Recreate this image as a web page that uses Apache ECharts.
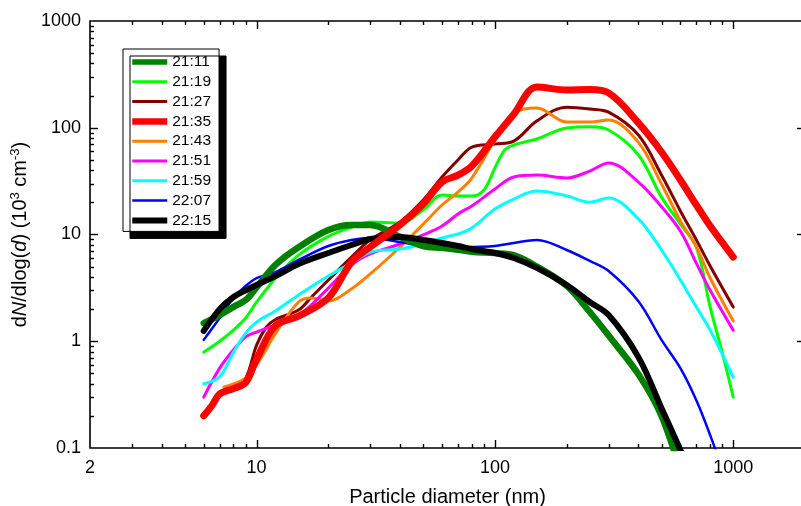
<!DOCTYPE html>
<html>
<head>
<meta charset="utf-8">
<script src="https://cdn.jsdelivr.net/npm/echarts@6/dist/echarts.min.js"></script>
<style>
  html, body { margin: 0; padding: 0; background: #fff; }
  #chart { width: 801px; height: 506px; }
</style>
</head>
<body>
<div id="chart"></div>
<script>
// Particle number size distributions, dN/dlog(d) in 10^3 cm^-3, by time of day
const seriesNames = ['21:11', '21:19', '21:27', '21:35', '21:43', '21:51', '21:59', '22:07', '22:15'];

const d2111 = [6, 7, 8, 9, 10, 12, 15, 20, 25, 30, 40, 50, 60, 70, 80, 100, 120, 150, 200, 250, 300, 400, 500, 600];
const n2111 = [1.48, 1.76, 2.1, 2.43, 3.2, 5.2, 7.6, 11.0, 12.3, 12.3, 9.5, 7.8, 7.5, 7.2, 6.9, 6.7, 6.4, 5.0, 3.3, 1.88, 1.13, 0.49, 0.2, 0.06];

const d2119 = [6, 7, 8, 9, 10, 12, 15, 20, 25, 30, 40, 50, 60, 70, 80, 90, 100, 110, 120, 150, 200, 250, 300, 400, 500, 600, 700, 800, 900, 1000];
const n2119 = [0.79, 1.0, 1.27, 1.65, 2.33, 3.9, 6.4, 9.6, 11.7, 13.1, 12.8, 17, 23.4, 22.9, 22.9, 26.1, 42, 61.9, 68.9, 78.5, 99.5, 102, 95.3, 55.6, 22.4, 12.5, 7.6, 2.09, 0.78, 0.30];

const d2127 = [7.3, 8, 9, 10, 11, 12, 15, 17, 20, 25, 30, 40, 50, 60, 70, 80, 100, 120, 150, 200, 250, 300, 400, 500, 600, 700, 800, 1000];
const n2127 = [0.35, 0.37, 0.45, 0.92, 1.36, 1.6, 1.96, 2.6, 3.75, 6.15, 8.9, 13.1, 21, 34.6, 49.9, 66, 70.4, 75, 116, 156, 150, 140, 85.5, 36.1, 16.6, 8.9, 5.07, 2.09];

const d2135 = [6, 6.5, 7, 8, 9, 10, 12, 15, 20, 25, 30, 40, 50, 60, 70, 80, 100, 120, 150, 200, 250, 300, 400, 500, 600, 700, 800, 1000];
const n2135 = [0.2, 0.25, 0.32, 0.36, 0.41, 0.68, 1.4, 1.72, 2.55, 5.5, 7.64, 12.3, 19.3, 31, 36, 43.8, 81.9, 134, 241, 226, 228, 212, 111, 59.3, 32.4, 18.9, 12.0, 6.15];

const d2143 = [7.3, 8, 9, 10, 12, 15, 17, 20, 25, 30, 40, 50, 60, 70, 80, 100, 120, 150, 200, 250, 300, 400, 500, 600, 700, 800, 1000];
const n2143 = [0.373, 0.398, 0.453, 0.6, 1.18, 2.33, 2.54, 2.38, 3.09, 4.27, 7.64, 12.5, 18.9, 25, 33.8, 76.8, 137, 153, 113, 113, 118, 73, 29.7, 13.4, 7.64, 3.91, 1.55];

const d2151 = [6, 7, 8, 9, 10, 12, 15, 20, 25, 30, 40, 50, 60, 70, 80, 100, 120, 150, 200, 250, 300, 400, 500, 600, 700, 800, 1000];
const n2151 = [0.30, 0.56, 0.83, 1.10, 1.22, 1.42, 1.73, 3.15, 5.18, 6.57, 8.15, 9.9, 12.0, 15.6, 18.5, 26.7, 34.6, 36, 33.8, 39.3, 46.8, 31, 18.2, 10.8, 5.4, 3.0, 1.27];

const d2159 = [6, 7, 8, 9, 10, 12, 15, 20, 25, 30, 40, 50, 60, 70, 80, 100, 120, 150, 200, 250, 300, 400, 500, 600, 700, 800, 1000];
const n2159 = [0.40, 0.465, 0.79, 1.19, 1.51, 1.92, 2.71, 4.08, 5.41, 6.86, 7.31, 8.15, 9.27, 10.1, 11.5, 17.3, 21.5, 25.5, 23, 20.1, 22, 14, 7.16, 3.75, 2.09, 1.27, 0.46];

const d2207 = [6, 7, 8, 9, 10, 12, 15, 20, 25, 30, 40, 50, 60, 70, 80, 100, 120, 150, 200, 250, 300, 400, 500, 600, 700, 800, 900];
const n2207 = [1.03, 1.65, 2.54, 3.29, 3.91, 4.45, 5.77, 7.8, 8.88, 9.27, 8.5, 7.8, 7.64, 7.48, 7.64, 7.8, 8.32, 8.88, 7.16, 5.65, 4.55, 2.37, 1.03, 0.56, 0.28, 0.132, 0.063];

const d2215 = [6, 7, 8, 9, 10, 12, 15, 20, 25, 30, 40, 50, 60, 70, 80, 100, 120, 150, 200, 250, 300, 400, 500, 600, 650];
const n2215 = [1.25, 2.0, 2.6, 3.0, 3.37, 4.08, 5.29, 6.71, 7.97, 9.08, 9.48, 8.88, 8.32, 7.8, 7.31, 6.71, 6.03, 4.86, 3.37, 2.33, 1.76, 0.71, 0.236, 0.096, 0.063];

const seriesColors = ['#008000', '#00ff00', '#800000', '#ff0000', '#ff8000', '#ff00ff', '#00ffff', '#0000ff', '#000000'];
const lineWidths = [6.5, 3, 3, 7, 3, 3, 3, 2.5, 6];
const legendWidths = [5.5, 3, 3, 6.5, 3, 3, 3, 2.5, 6];
const drawOrder = [3, 2, 2, 5, 2, 2, 2, 2, 4];

const diameters = [d2111, d2119, d2127, d2135, d2143, d2151, d2159, d2207, d2215];
const concentrations = [n2111, n2119, n2127, n2135, n2143, n2151, n2159, n2207, n2215];

// Axis tick positions (log axes)
const xLabelValues = [2, 10, 100, 1000];
const xMajorTicks = [10, 100, 1000];
const xMinorTicks = [3, 4, 5, 6, 7, 8, 9, 20, 30, 40, 50, 60, 70, 80, 90, 200, 300, 400, 500, 600, 700, 800, 900];
const yMajorTicks = [1, 10, 100];
const yMinorTicks = [0.2, 0.3, 0.4, 0.5, 0.6, 0.7, 0.8, 0.9, 2, 3, 4, 5, 6, 7, 8, 9, 20, 30, 40, 50, 60, 70, 80, 90, 200, 300, 400, 500, 600, 700, 800, 900];

const FONT = "'Liberation Sans', Arial, Helvetica, sans-serif";
const MAJOR_LEN = 8, MINOR_LEN = 4;

const chart = echarts.init(document.getElementById('chart'), null, { renderer: 'canvas' });

const lineSeries = seriesNames.map((name, i) => ({
  name: name,
  type: 'line',
  data: diameters[i].map((d, k) => [d, concentrations[i][k]]),
  smooth: 0.35,
  symbol: 'none',
  showSymbol: false,
  clip: true,
  z: drawOrder[i],
  lineStyle: { color: seriesColors[i], width: lineWidths[i], cap: 'round', join: 'round' },
  itemStyle: { color: seriesColors[i] },
  emphasis: { disabled: true },
  animation: false
}));

const xTickData = xMajorTicks.map(v => [v, 1, MAJOR_LEN]).concat(xMinorTicks.map(v => [v, 1, MINOR_LEN]));
const yTickData = yMajorTicks.map(v => [10, v, MAJOR_LEN]).concat(yMinorTicks.map(v => [10, v, MINOR_LEN]));

const tickStyle = { stroke: '#000', lineWidth: 1.4 };

const tickSeries = [
  {
    type: 'custom',
    silent: true,
    z: 10,
    data: xTickData,
    renderItem: function (params, api) {
      const cs = params.coordSys;
      const px = Math.round(api.coord([api.value(0), api.value(1)])[0]) + 0.5;
      const len = api.value(2);
      const top = cs.y, bottom = cs.y + cs.height;
      return {
        type: 'group',
        children: [
          { type: 'line', shape: { x1: px, y1: bottom, x2: px, y2: bottom - len }, style: tickStyle },
          { type: 'line', shape: { x1: px, y1: top, x2: px, y2: top + len }, style: tickStyle }
        ]
      };
    }
  },
  {
    type: 'custom',
    silent: true,
    z: 10,
    data: yTickData,
    renderItem: function (params, api) {
      const cs = params.coordSys;
      const py = Math.round(api.coord([api.value(0), api.value(1)])[1]) + 0.5;
      const len = api.value(2);
      const left = cs.x, right = cs.x + cs.width;
      return {
        type: 'group',
        children: [
          { type: 'line', shape: { x1: left, y1: py, x2: left + len, y2: py }, style: tickStyle },
          { type: 'line', shape: { x1: right, y1: py, x2: right - len, y2: py }, style: tickStyle }
        ]
      };
    }
  }
];

function fmtNum(v) {
  return String(+Number(v).toPrecision(6));
}

const option = {
  animation: false,
  backgroundColor: '#fff',
  textStyle: { fontFamily: FONT, color: '#000' },
  grid: {
    left: 90, top: 21, width: 715, height: 427,
    containLabel: false,
    outerBoundsMode: 'none',
    show: true, borderColor: '#000', borderWidth: 1.6, backgroundColor: 'transparent'
  },
  xAxis: {
    type: 'log', logBase: 10, min: 2, max: 2000,
    name: 'Particle diameter (nm)',
    nameLocation: 'middle', nameGap: 39,
    nameTextStyle: { fontFamily: FONT, fontSize: 20, color: '#000' },
    axisLine: { show: false },
    axisTick: { show: false },
    splitLine: { show: false },
    minorTick: { show: false },
    axisLabel: {
      fontFamily: FONT, fontSize: 18, color: '#000', margin: 11,
      showMaxLabel: false,
      formatter: function (v) {
        const r = +Number(v).toPrecision(6);
        return xLabelValues.indexOf(r) >= 0 ? String(r) : '';
      }
    }
  },
  yAxis: {
    type: 'log', logBase: 10, min: 0.1, max: 1000,
    name: '{n|d}{i|N}{n|/dlog(}{i|d}{n|) (10}{s|3}{n| cm}{s|-3}{n|)}',
    nameLocation: 'middle', nameRotate: 90, nameGap: 53,
    nameTextStyle: {
      fontFamily: FONT, color: '#000',
      rich: {
        n: { fontFamily: FONT, fontSize: 20, lineHeight: 23, color: '#000' },
        i: { fontFamily: FONT, fontSize: 20, lineHeight: 23, fontStyle: 'italic', color: '#000' },
        s: { fontFamily: FONT, fontSize: 13, lineHeight: 13, verticalAlign: 'top', color: '#000' }
      }
    },
    axisLine: { show: false },
    axisTick: { show: false },
    splitLine: { show: false },
    minorTick: { show: false },
    axisLabel: {
      fontFamily: FONT, fontSize: 18, color: '#000', margin: 9,
      formatter: fmtNum
    }
  },
  legend: {
    orient: 'vertical',
    left: 123, top: 49,
    padding: [5, 8, 3, 6],
    itemWidth: 35, itemHeight: 16, itemGap: 3.8,
    backgroundColor: '#fff',
    borderColor: '#000', borderWidth: 1,
    shadowColor: '#000', shadowBlur: 0, shadowOffsetX: 7, shadowOffsetY: 7,
    selectedMode: false,
    itemStyle: { opacity: 0 },
    textStyle: { fontFamily: FONT, fontSize: 15.5, color: '#000', lineHeight: 16 },
    data: seriesNames.map((name, i) => ({
      name: name,
      itemStyle: { opacity: 0 },
      lineStyle: { color: seriesColors[i], width: legendWidths[i], cap: 'butt' }
    }))
  },
  series: lineSeries.concat(tickSeries)
};

chart.setOption(option);
</script>
</body>
</html>
